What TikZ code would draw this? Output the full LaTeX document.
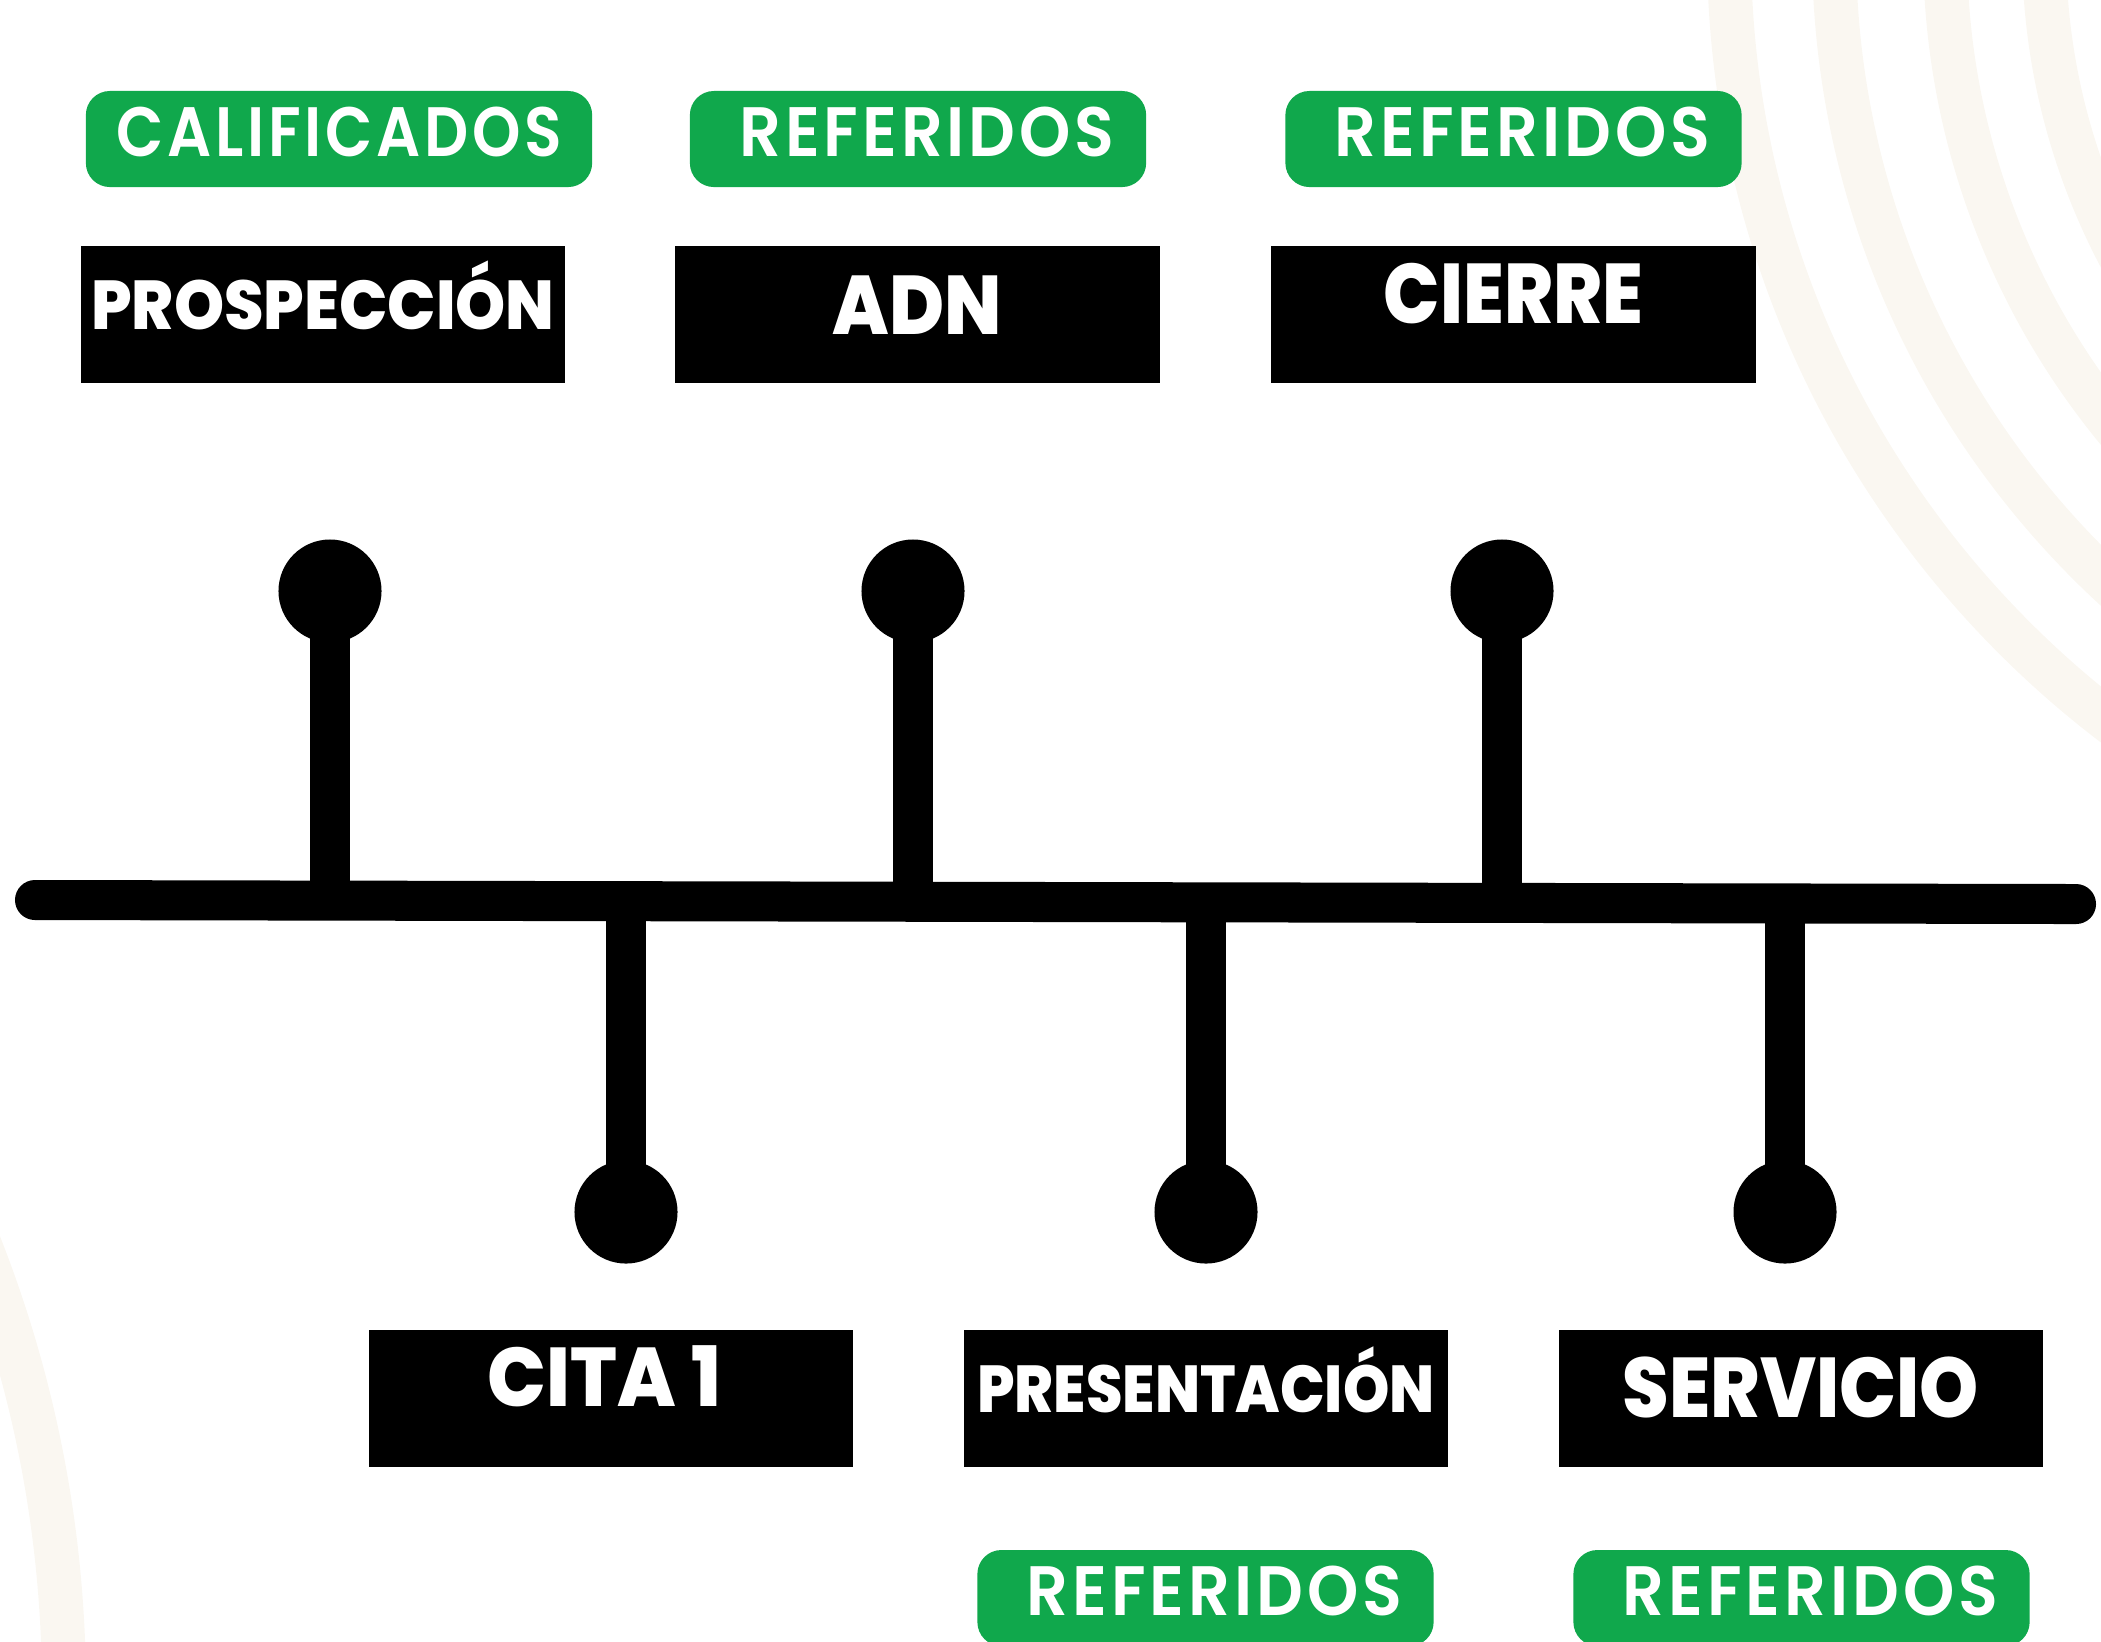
\documentclass[tikz,border=0pt]{standalone}
\usepackage{fontspec}
\usepackage{graphicx}
\usetikzlibrary{calc}

\IfFontExistsTF{Poppins ExtraBold}
  {\newfontfamily\stagefont{Poppins ExtraBold}}
  {\newfontfamily\stagefontbase{Poppins}\newcommand{\stagefont}{\stagefontbase\bfseries}}
\IfFontExistsTF{Poppins SemiBold}
  {\newfontfamily\tagfont[LetterSpace=6]{Poppins SemiBold}}
  {\newfontfamily\tagfontbase[LetterSpace=6]{Poppins}\newcommand{\tagfont}{\tagfontbase\bfseries}}

\definecolor{leafgreen}{RGB}{16,168,76}
\definecolor{sand}{RGB}{250,247,241}

% text squeezed to a given width and cap height
\newcommand{\fittext}[3]{\resizebox{#1}{#2}{\raisebox{0pt}[\fontcharht\font`E][0pt]{#3}}}

\begin{document}
\begin{tikzpicture}[x=0.01cm, y=-0.01cm]
    \tikzset{
      stage/.style={fill=black, text=white, minimum width=4.84cm, minimum height=1.37cm, inner sep=0pt, font=\stagefont},
      tag/.style={fill=leafgreen, text=white, rounded corners=0.24cm, minimum width=4.56cm, minimum height=0.96cm, inner sep=0pt, font=\tagfont},
      dot/.style={circle, fill=black, minimum size=1.03cm, inner sep=0pt},
      stem/.style={draw=black, line width=0.40cm},
      ring/.style={draw=sand, line width=0.44cm},
    }
    \useasboundingbox (0,0) rectangle (2101,1641);

    % background rings
    \begin{scope}
      \clip (0,0) rectangle (2101,1641);
      \foreach \r in {974,869,758,659}
        \draw[ring] (2703,-51) circle[radius=\r];
      \draw[ring] (-1149,1690) circle[radius=1213];
    \end{scope}

    % timeline
    \coordinate (barW) at (35,900);
    \coordinate (barE) at (2076,904);
    \draw[stem, line cap=round] (barW) -- (barE);

    \foreach \n/\x in {1/330,3/913,5/1502}
      \node[dot] (d\n) at (\x,591) {};
    \foreach \n/\x in {2/626,4/1206,6/1785}
      \node[dot] (d\n) at (\x,1212) {};
    \foreach \n in {1,...,6}
      \draw[stem] (d\n.center) -- (d\n |- barW);

    % stages
    \node[stage, text depth=0.20cm] (prosp) at (323,314.5) {\fittext{4.63cm}{0.49cm}{PROSPECCIÓN}};
    \node[stage, text depth=0.20cm] (adn) at (917.5,314.5) {\fittext{1.69cm}{0.59cm}{ADN}};
    \node[stage, text depth=0.43cm] (cierre) at (1513.5,314.5) {\fittext{2.59cm}{0.60cm}{CIERRE}};
    \node[stage, text depth=0.44cm] (cita) at (611,1398.5) {\fittext{2.33cm}{0.59cm}{CITA 1}\hspace*{0.13cm}};
    \node[stage, text depth=0.20cm] (present) at (1206,1398.5) {\fittext{4.57cm}{0.47cm}{PRESENTACIÓN}};
    \node[stage, text depth=0.23cm] (servicio) at (1801,1398.5) {\fittext{3.56cm}{0.60cm}{SERVICIO}};

    % tags
    \node[tag, minimum width=5.06cm, text depth=0.15cm] (calif) at (339,139) {\fittext{4.45cm}{0.49cm}{CALIFICADOS}};
    \node[tag, text depth=0.14cm] (refA) at (918,139) {\hspace*{0.18cm}\fittext{3.75cm}{0.49cm}{REFERIDOS}};
    \node[tag, text depth=0.14cm] (refB) at (1513.5,139) {\hspace*{0.18cm}\fittext{3.75cm}{0.49cm}{REFERIDOS}};
    \node[tag, text depth=0.14cm] (refC) at (1205.5,1598) {\hspace*{0.18cm}\fittext{3.75cm}{0.49cm}{REFERIDOS}};
    \node[tag, text depth=0.14cm] (refD) at (1801.5,1598) {\hspace*{0.18cm}\fittext{3.75cm}{0.49cm}{REFERIDOS}};

  \end{tikzpicture}
\end{document}
